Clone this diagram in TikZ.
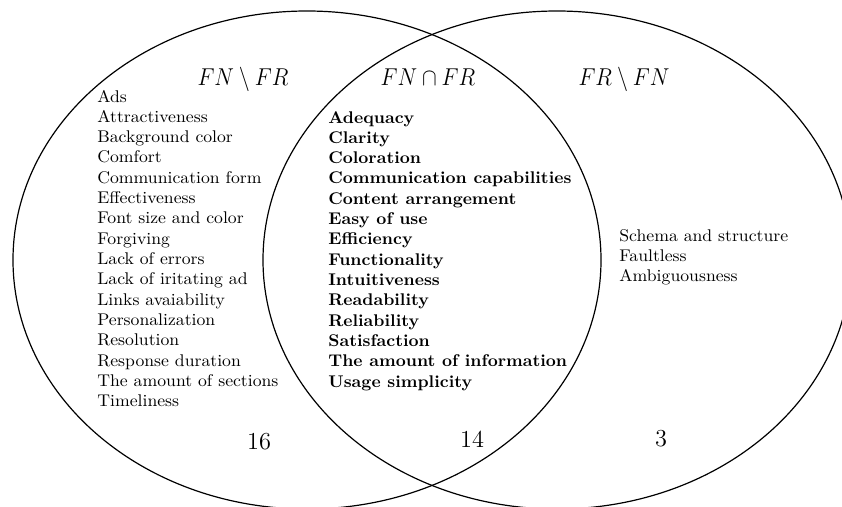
\documentclass[tikz,border=0pt]{standalone}
\begin{document}
\begin{tikzpicture}[x=1pt,y=-1pt,
  ring/.style={draw=black,line width=1.2pt},
  txt/.style={inner sep=0pt,xscale=1.77,yscale=1.694,anchor=base west},
  boldtxt/.style={inner sep=0pt,xscale=1.745,yscale=1.694,anchor=base west,font=\bfseries},
  big/.style={inner sep=0pt,xscale=1.53,yscale=1.694,anchor=base,font=\Large},
  num/.style={inner sep=0pt,scale=1.694,anchor=base,font=\Large}]
\useasboundingbox (0,0) rectangle (842,506);
\clip (0,0) rectangle (842,506);
\fill[white] (0,0) rectangle (842,506);
\draw[ring] (307,260) ellipse [x radius=294pt, y radius=249pt];
\draw[ring] (557,260) ellipse [x radius=294pt, y radius=249pt];
% titles
\node[big] (t1) at (243,85) {$FN\setminus FR$};
\node[big] (t2) at (428,85) {$FN\cap FR$};
\node[big] (t3) at (624,85) {$FR\setminus FN$};
% left list
\foreach \s [count=\i from 0] in {Ads,Attractiveness,Background color,Comfort,Communication form,Effectiveness,Font size and color,Forgiving,Lack of errors,Lack of iritating ad,Links avaiability,Personalization,Resolution,Response duration,The amount of sections,Timeliness}
  \node[txt] (l\i) at (97,102+20.33*\i) {\s};
% centre list
\foreach \s [count=\i from 0] in {Adequacy,Clarity,Coloration,Communication capabilities,Content arrangement,Easy of use,Efficiency,Functionality,Intuitiveness,Readability,Reliability,Satisfaction,The amount of information,Usage simplicity}
  \node[boldtxt] (c\i) at (328,123+20.33*\i) {\s};
% right list
\foreach \s [count=\i from 0] in {Schema and structure,Faultless,Ambiguousness}
  \node[txt] (r\i) at (619,241+20.33*\i) {\s};
% counts
\node[num] (n1) at (259,449) {16};
\node[num] (n2) at (472,447) {14};
\node[num] (n3) at (661,446) {3};
\end{tikzpicture}
\end{document}
